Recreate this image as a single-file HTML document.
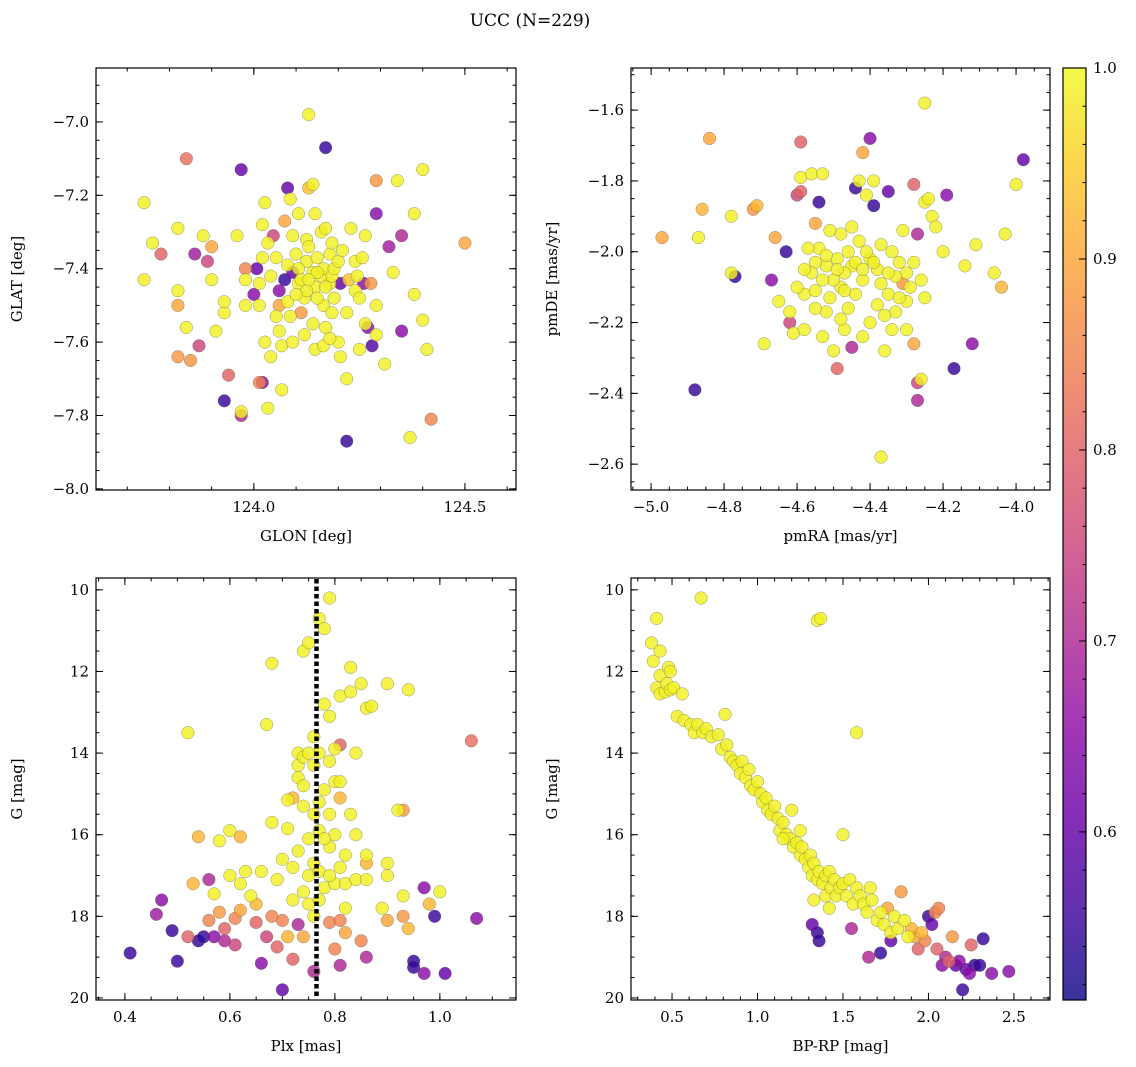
<!DOCTYPE html>
<html><head><meta charset="utf-8">
<style>
html,body{margin:0;padding:0;background:#fff;}
svg{display:block;font-family:"DejaVu Serif","Liberation Serif",serif;}
</style></head>
<body>
<svg id="fig" width="1136" height="1067" viewBox="0 0 1136 1067" xmlns="http://www.w3.org/2000/svg">
<text x="530" y="26" font-size="17" text-anchor="middle">UCC (N=229)</text>
</svg>
<script>
// ---- Data arrays: [x, y, membership probability] ----
const glonGlat = [[123.74,-7.22,.99],[123.74,-7.43,.99],[123.84,-7.10,.82],[123.97,-7.13,.6],[124.17,-7.07,.55],[124.13,-6.98,.99],[124.29,-7.16,.88],[124.34,-7.16,.99],[124.40,-7.13,.99],[124.50,-7.33,.9],[124.38,-7.25,.99],[124.35,-7.31,.7],[124.32,-7.34,.68],[124.29,-7.25,.65],[124.40,-7.54,.99],[124.41,-7.62,.99],[124.42,-7.81,.85],[124.37,-7.86,.99],[124.38,-7.47,.99],[124.33,-7.41,.99],[124.31,-7.66,.99],[124.35,-7.57,.65],[124.29,-7.58,.99],[124.27,-7.56,.65],[124.28,-7.61,.58],[124.25,-7.62,.99],[124.22,-7.70,.99],[124.22,-7.87,.55],[124.26,-7.44,.65],[124.29,-7.50,.99],[123.78,-7.36,.8],[123.76,-7.33,.99],[123.82,-7.29,.99],[123.82,-7.46,.99],[123.82,-7.50,.9],[123.84,-7.56,.99],[123.82,-7.64,.88],[123.85,-7.65,.88],[123.87,-7.61,.75],[123.86,-7.36,.68],[123.88,-7.31,.99],[123.89,-7.38,.75],[123.90,-7.34,.9],[123.90,-7.43,.99],[123.91,-7.57,.99],[123.93,-7.52,.99],[123.93,-7.49,.99],[123.93,-7.76,.55],[123.94,-7.69,.8],[123.97,-7.79,.99],[123.97,-7.80,.7],[123.98,-7.50,.99],[123.98,-7.43,.99],[123.98,-7.40,.85],[123.96,-7.31,.99],[124.00,-7.47,.65],[124.007,-7.40,.6],[124.013,-7.50,.99],[124.013,-7.71,.85],[124.02,-7.71,.65],[124.026,-7.60,.99],[124.04,-7.64,.99],[124.033,-7.78,.99],[124.02,-7.28,.99],[124.026,-7.22,.99],[124.033,-7.33,.99],[124.046,-7.31,.75],[124.02,-7.37,.99],[124.04,-7.42,.99],[124.053,-7.37,.99],[124.06,-7.46,.65],[124.06,-7.50,.9],[124.06,-7.57,.99],[124.066,-7.61,.99],[124.066,-7.73,.99],[124.073,-7.43,.55],[124.073,-7.27,.9],[124.08,-7.18,.6],[124.086,-7.21,.99],[124.092,-7.41,.6],[124.092,-7.31,.99],[124.10,-7.36,.99],[124.106,-7.25,.99],[124.106,-7.44,.99],[124.112,-7.52,.88],[124.12,-7.48,.99],[124.125,-7.38,.99],[124.125,-7.32,.99],[124.13,-7.18,.93],[124.14,-7.17,.99],[124.14,-7.41,.99],[124.14,-7.55,.99],[124.145,-7.45,.99],[124.145,-7.62,.99],[124.15,-7.37,.99],[124.16,-7.30,.99],[124.16,-7.42,.99],[124.165,-7.40,.99],[124.165,-7.50,.99],[124.17,-7.56,.99],[124.17,-7.29,.99],[124.18,-7.36,.99],[124.18,-7.44,.99],[124.185,-7.33,.99],[124.185,-7.42,.99],[124.19,-7.40,.99],[124.19,-7.48,.99],[124.20,-7.38,.99],[124.20,-7.60,.99],[124.205,-7.64,.99],[124.205,-7.44,.6],[124.21,-7.35,.99],[124.22,-7.52,.99],[124.225,-7.43,.94],[124.23,-7.29,.99],[124.24,-7.38,.99],[124.24,-7.46,.99],[124.245,-7.42,.99],[124.25,-7.48,.99],[124.257,-7.37,.99],[124.264,-7.31,.99],[124.264,-7.55,.99],[124.277,-7.44,.88],[124.165,-7.61,.99],[124.12,-7.58,.99],[124.092,-7.60,.99],[124.086,-7.53,.99],[124.08,-7.49,.99],[124.08,-7.39,.99],[124.145,-7.25,.99],[124.13,-7.34,.99],[124.106,-7.40,.99],[124.112,-7.43,.99],[124.15,-7.48,.99],[124.185,-7.52,.99],[124.18,-7.59,.99],[124.125,-7.46,.99],[124.17,-7.45,.99],[124.15,-7.41,.99],[124.13,-7.43,.99],[124.10,-7.47,.99],[124.053,-7.53,.99],[124.013,-7.44,.99]];
const pmraPmde = [[-4.97,-1.96,.9],[-4.87,-1.96,.99],[-4.86,-1.88,.92],[-4.84,-1.68,.9],[-4.88,-2.39,.55],[-4.78,-1.90,.99],[-4.78,-2.06,.99],[-4.77,-2.07,.55],[-4.72,-1.88,.88],[-4.71,-1.87,.92],[-4.69,-2.26,.99],[-4.67,-2.08,.65],[-4.66,-1.96,.9],[-4.65,-2.14,.99],[-4.63,-2.00,.55],[-4.62,-2.20,.75],[-4.62,-2.17,.99],[-4.61,-2.23,.99],[-4.60,-1.84,.75],[-4.59,-1.69,.8],[-4.59,-1.79,.99],[-4.59,-1.83,.8],[-4.58,-2.12,.99],[-4.55,-2.11,.99],[-4.56,-1.78,.99],[-4.53,-1.78,.99],[-4.54,-1.86,.55],[-4.55,-1.92,.9],[-4.54,-1.99,.99],[-4.52,-2.04,.99],[-4.52,-2.17,.99],[-4.50,-2.28,.99],[-4.49,-2.33,.8],[-4.48,-1.95,.99],[-4.48,-2.10,.99],[-4.47,-2.22,.99],[-4.45,-2.04,.99],[-4.45,-2.27,.7],[-4.44,-1.82,.55],[-4.43,-1.80,.99],[-4.42,-1.72,.9],[-4.40,-1.68,.65],[-4.41,-1.84,.99],[-4.39,-1.80,.99],[-4.39,-1.87,.55],[-4.38,-2.05,.99],[-4.37,-2.58,.99],[-4.36,-2.28,.99],[-4.35,-1.83,.6],[-4.34,-2.00,.99],[-4.33,-2.17,.99],[-4.31,-1.94,.99],[-4.30,-2.14,.99],[-4.28,-2.26,.9],[-4.28,-1.81,.8],[-4.27,-1.95,.7],[-4.27,-2.37,.75],[-4.27,-2.42,.7],[-4.26,-2.36,.99],[-4.25,-1.86,.99],[-4.25,-1.58,.99],[-4.24,-1.85,.99],[-4.23,-1.90,.99],[-4.22,-1.93,.99],[-4.20,-2.00,.99],[-4.19,-1.84,.65],[-4.17,-2.33,.55],[-4.14,-2.04,.99],[-4.12,-2.26,.65],[-4.11,-1.98,.99],[-4.06,-2.06,.99],[-4.04,-2.10,.92],[-4.03,-1.95,.99],[-4.00,-1.81,.99],[-3.98,-1.74,.6],[-4.30,-2.06,.99],[-4.31,-2.09,.88],[-4.35,-2.12,.99],[-4.38,-2.15,.99],[-4.32,-2.03,.99],[-4.40,-2.02,.99],[-4.42,-2.08,.99],[-4.44,-2.12,.99],[-4.46,-2.00,.99],[-4.47,-2.06,.99],[-4.49,-2.02,.99],[-4.50,-2.08,.99],[-4.51,-2.13,.99],[-4.53,-2.08,.99],[-4.55,-2.03,.99],[-4.56,-2.06,.99],[-4.57,-1.99,.99],[-4.58,-2.05,.99],[-4.60,-2.10,.99],[-4.43,-1.97,.99],[-4.41,-2.00,.99],[-4.39,-2.03,.99],[-4.37,-2.09,.99],[-4.36,-2.18,.99],[-4.34,-2.22,.99],[-4.33,-2.07,.99],[-4.29,-2.10,.99],[-4.28,-2.03,.99],[-4.26,-2.08,.99],[-4.25,-2.13,.99],[-4.46,-2.16,.99],[-4.48,-2.19,.99],[-4.42,-2.24,.99],[-4.40,-2.20,.99],[-4.53,-2.24,.99],[-4.51,-1.94,.99],[-4.45,-1.93,.99],[-4.49,-2.05,.99],[-4.44,-2.03,.99],[-4.42,-2.05,.99],[-4.52,-2.01,.99],[-4.47,-2.11,.99],[-4.35,-2.06,.99],[-4.37,-1.98,.99],[-4.32,-2.13,.99],[-4.30,-2.22,.99],[-4.55,-2.16,.99],[-4.58,-2.22,.99]];
const plxG = [[0.41,18.9,.55],[0.46,17.95,.68],[0.47,17.6,.65],[0.49,18.35,.55],[0.50,19.1,.55],[0.52,18.5,.8],[0.52,13.5,.99],[0.53,17.2,.92],[0.54,18.6,.55],[0.55,18.5,.55],[0.54,16.05,.92],[0.56,18.1,.85],[0.56,17.1,.7],[0.57,18.5,.65],[0.57,17.45,.99],[0.58,16.15,.99],[0.58,17.9,.88],[0.59,18.3,.8],[0.59,18.6,.7],[0.60,15.9,.99],[0.60,17.0,.99],[0.61,18.05,.85],[0.61,18.7,.75],[0.62,17.2,.99],[0.62,17.85,.9],[0.62,16.05,.92],[0.63,16.9,.99],[0.64,17.5,.99],[0.65,18.15,.8],[0.65,17.7,.92],[0.66,16.9,.99],[0.66,19.15,.65],[0.67,13.3,.99],[0.67,18.5,.75],[0.68,11.8,.99],[0.68,15.7,.99],[0.69,17.1,.99],[0.69,18.75,.8],[0.70,18.1,.85],[0.70,19.8,.6],[0.70,16.6,.99],[0.71,15.15,.99],[0.71,15.85,.99],[0.71,18.5,.92],[0.72,19.05,.8],[0.72,16.8,.99],[0.72,15.1,.92],[0.73,14.0,.99],[0.73,14.3,.99],[0.73,14.6,.99],[0.73,16.4,.99],[0.73,18.2,.7],[0.74,11.5,.99],[0.75,11.3,.99],[0.74,14.1,.99],[0.74,15.3,.99],[0.74,14.8,.99],[0.74,17.4,.99],[0.75,16.1,.99],[0.75,17.0,.99],[0.75,17.7,.99],[0.76,13.6,.99],[0.76,14.3,.99],[0.76,15.5,.99],[0.76,16.7,.99],[0.76,19.35,.7],[0.77,10.7,.99],[0.77,14.0,.99],[0.77,15.9,.99],[0.77,16.9,.99],[0.78,10.95,.99],[0.78,12.8,.99],[0.78,14.9,.99],[0.78,17.3,.99],[0.79,10.2,.99],[0.79,13.1,.99],[0.79,14.2,.99],[0.79,15.5,.99],[0.79,16.3,.99],[0.79,18.15,.85],[0.80,14.7,.99],[0.80,13.9,.99],[0.80,16.0,.99],[0.80,17.2,.99],[0.80,18.8,.85],[0.81,12.6,.99],[0.81,13.8,.8],[0.81,14.7,.99],[0.81,15.1,.92],[0.81,16.8,.99],[0.81,18.1,.85],[0.81,19.2,.7],[0.82,16.5,.99],[0.82,17.2,.99],[0.82,18.4,.9],[0.83,11.9,.99],[0.83,12.5,.99],[0.83,15.5,.99],[0.84,14.0,.99],[0.84,16.0,.99],[0.84,17.1,.99],[0.85,12.3,.99],[0.85,18.6,.85],[0.86,12.9,.99],[0.86,16.5,.99],[0.86,16.7,.92],[0.86,17.1,.99],[0.86,19.0,.7],[0.87,12.85,.99],[0.89,17.8,.99],[0.90,12.3,.99],[0.90,16.7,.99],[0.90,17.0,.99],[0.90,18.1,.9],[0.92,15.4,.99],[0.93,15.4,.88],[0.93,17.5,.99],[0.93,18.0,.88],[0.94,12.45,.99],[0.94,18.3,.92],[0.95,19.1,.55],[0.95,19.25,.55],[0.97,17.3,.65],[0.97,19.4,.65],[0.98,17.7,.92],[0.99,18.0,.55],[1.00,17.4,.99],[1.01,19.4,.6],[1.06,13.7,.82],[1.07,18.05,.65],[0.76,18.0,.99],[0.74,18.5,.9],[0.72,17.6,.99],[0.75,14.0,.99],[0.77,15.2,.99],[0.78,16.1,.99],[0.79,17.0,.99],[0.77,17.6,.99],[0.82,17.8,.99],[0.68,18.0,.85]];
const bprpG = [[0.38,11.3,.99],[0.39,11.75,.99],[0.41,10.7,.99],[0.41,12.4,.99],[0.43,11.5,.99],[0.43,12.1,.99],[0.43,12.55,.99],[0.46,12.5,.99],[0.47,12.3,.99],[0.48,11.9,.99],[0.49,12.0,.99],[0.49,12.45,.99],[0.51,12.4,.99],[0.53,13.1,.99],[0.56,12.55,.99],[0.57,13.2,.99],[0.61,13.3,.99],[0.63,13.5,.99],[0.65,13.3,.99],[0.67,10.2,.99],[0.68,13.5,.99],[0.70,13.4,.99],[0.73,13.6,.99],[0.77,13.55,.99],[0.79,13.9,.99],[0.81,13.05,.99],[0.82,13.8,.99],[0.84,14.1,.99],[0.86,14.2,.99],[0.88,14.3,.99],[0.90,14.5,.99],[0.91,14.2,.99],[0.93,14.6,.99],[0.95,14.4,.99],[0.96,14.8,.99],[0.98,14.9,.99],[1.00,14.7,.99],[1.02,15.0,.99],[1.03,15.2,.99],[1.05,15.1,.99],[1.06,15.4,.99],[1.08,15.5,.99],[1.10,15.3,.99],[1.12,15.6,.99],[1.13,15.9,.99],[1.15,15.7,.99],[1.17,16.0,.99],[1.19,16.1,.99],[1.20,15.4,.99],[1.21,16.3,.99],[1.23,16.2,.99],[1.25,16.5,.99],[1.26,16.3,.99],[1.28,16.6,.99],[1.30,16.8,.99],[1.31,16.5,.99],[1.32,17.0,.99],[1.33,16.7,.99],[1.35,10.75,.99],[1.37,10.7,.99],[1.35,17.1,.99],[1.36,16.9,.99],[1.38,17.2,.99],[1.40,17.0,.99],[1.40,17.5,.99],[1.42,16.9,.99],[1.43,17.3,.99],[1.45,17.1,.99],[1.46,17.5,.99],[1.48,17.3,.99],[1.50,16.0,.99],[1.50,17.2,.99],[1.52,17.5,.99],[1.54,17.1,.99],[1.56,17.7,.99],[1.58,17.3,.99],[1.58,13.5,.99],[1.60,17.5,.99],[1.62,17.7,.99],[1.64,17.9,.99],[1.66,17.3,.99],[1.67,17.6,.99],[1.70,18.1,.99],[1.72,17.9,.99],[1.74,18.2,.99],[1.76,17.8,.9],[1.78,18.4,.99],[1.80,18.0,.99],[1.82,18.3,.99],[1.84,17.4,.88],[1.86,18.1,.99],[1.88,18.5,.99],[1.90,18.3,.92],[1.92,18.5,.9],[1.94,18.8,.8],[1.96,18.4,.92],[1.98,18.6,.85],[2.00,18.0,.55],[2.02,18.2,.6],[2.04,17.9,.85],[2.05,18.8,.8],[2.06,17.8,.85],[2.08,19.2,.65],[2.10,19.0,.7],[2.12,19.1,.8],[2.14,18.5,.88],[2.16,19.2,.6],[2.18,19.1,.65],[2.20,19.8,.55],[2.22,19.3,.6],[2.24,19.4,.65],[2.25,18.7,.8],[2.27,19.2,.55],[2.30,19.2,.55],[2.32,18.55,.55],[2.37,19.4,.65],[2.47,19.35,.65],[1.32,18.2,.6],[1.35,18.4,.55],[1.36,18.6,.55],[1.55,18.3,.7],[1.65,19.0,.7],[1.72,18.9,.55],[1.78,18.6,.6],[1.25,15.9,.99],[1.15,16.1,.99],[1.42,17.8,.99],[1.33,17.6,.99]];
const plxMedian = [0.765];
const xTicks1 = [124.0,124.5], yTicks1 = [-7.0,-7.2,-7.4,-7.6,-7.8,-8.0];
const xTicks2 = [-5.0,-4.8,-4.6,-4.4,-4.2,-4.0], yTicks2 = [-1.6,-1.8,-2.0,-2.2,-2.4,-2.6];
const xTicks3 = [0.4,0.6,0.8,1.0], yTicksG = [10,12,14,16,18,20];
const xTicks4 = [0.5,1.0,1.5,2.0,2.5];
const cbTicks = [0.6,0.7,0.8,0.9,1.0];

const NS='http://www.w3.org/2000/svg';
const svg=document.getElementById('fig');
function mk(tag,attrs,parent){const e=document.createElementNS(NS,tag);for(const k in attrs)e.setAttribute(k,attrs[k]);(parent||svg).appendChild(e);return e;}
const stops=['#0d0887','#41049d','#6a00a8','#8f0da4','#b12a90','#cc4778','#e16462','#f2844b','#fca636','#fcce25','#f0f921'];
function hex(h){return [1,3,5].map(i=>parseInt(h.substr(i,2),16));}
const cmin=0.512,cmax=1.0;
function plasma(v){let t=(v-cmin)/(cmax-cmin);t=Math.max(0,Math.min(1,t))*10;const i=Math.min(9,Math.floor(t)),f=t-i;const a=hex(stops[i]),b=hex(stops[i+1]);return 'rgb('+a.map((x,k)=>Math.round(x+(b[k]-x)*f)).join(',')+')';}

function fmt(v,d){return (v<0?'\u2212':'')+Math.abs(v).toFixed(d);}
function panel(name,box,xr,yr,data,xt,yt,xd,yd,xminor,yminor,xlabel,ylabel){
  const [L,T,R,B]=box;
  const g=mk('g',{});
  
  
  const sx=v=>L+(v-xr[0])/(xr[1]-xr[0])*(R-L);
  const sy=v=>T+(v-yr[0])/(yr[1]-yr[0])*(B-T);
  const pts=mk('g',{},g);
  
  
  const sorted=data.slice().sort((a,b)=>a[2]-b[2]);
  sorted.forEach(d=>{
    const c=mk('circle',{cx:sx(d[0]),cy:sy(d[1]),r:6.3,fill:plasma(d[2]),'fill-opacity':0.82,stroke:'#555','stroke-opacity':0.6,'stroke-width':0.5},pts);
    
    
  });
  const tk=mk('g',{stroke:'#000','stroke-width':1},g);
  const lo=Math.min(xr[0],xr[1]),hi=Math.max(xr[0],xr[1]);
  for(let v=Math.ceil(lo/xminor)*xminor;v<=hi;v+=xminor){const x=sx(v);mk('line',{x1:x,x2:x,y1:B,y2:B-3.5},tk);mk('line',{x1:x,x2:x,y1:T,y2:T+3.5},tk);}
  const ylo=Math.min(yr[0],yr[1]),yhi=Math.max(yr[0],yr[1]);
  for(let v=Math.ceil(ylo/yminor-1e-6)*yminor;v<=yhi;v+=yminor){const y=sy(v);mk('line',{x1:L,x2:L+3.5,y1:y,y2:y},tk);mk('line',{x1:R,x2:R-3.5,y1:y,y2:y},tk);}
  xt.forEach(v=>{const x=sx(v);mk('line',{x1:x,x2:x,y1:B,y2:B-7},tk);mk('line',{x1:x,x2:x,y1:T,y2:T+7},tk);
    const t=mk('text',{x:x,y:B+22,'font-size':15,'text-anchor':'middle'},g);t.textContent=fmt(v,xd);
    });
  yt.forEach(v=>{const y=sy(v);mk('line',{x1:L,x2:L+7,y1:y,y2:y},tk);mk('line',{x1:R,x2:R-7,y1:y,y2:y},tk);
    const t=mk('text',{x:L-7,y:y+5,'font-size':15,'text-anchor':'end'},g);t.textContent=fmt(v,yd);
    });
  mk('rect',{x:L,y:T,width:R-L,height:B-T,fill:'none',stroke:'#000','stroke-width':1.2},g);
  const xl=mk('text',{x:(L+R)/2,y:B+51,'font-size':15,'text-anchor':'middle'},g);xl.textContent=xlabel;
  
  const yl=mk('text',{x:0,y:0,'font-size':15,'text-anchor':'middle',transform:`translate(${L-74},${(T+B)/2}) rotate(-90)`},g);yl.textContent=ylabel;
  
  return {sx,sy,g};
}
panel('glon-glat-panel',[96,68,516,490],[123.626,124.621],[-6.853,-8.003],glonGlat,xTicks1,yTicks1,1,1,0.1,0.05,'GLON [deg]','GLAT [deg]');
panel('pm-panel',[631,68,1050,490],[-5.055,-3.907],[-1.481,-2.673],pmraPmde,xTicks2,yTicks2,1,1,0.05,0.05,'pmRA [mas/yr]','pmDE [mas/yr]');
const p3=panel('plx-g-panel',[96,578,516,1000],[0.345,1.145],[9.71,20.05],plxG,xTicks3,yTicksG,1,0,0.05,0.5,'Plx [mas]','G [mag]');
panel('cmd-panel',[631,578,1050,1000],[0.26,2.711],[9.71,20.05],bprpG,xTicks4,yTicksG,1,0,0.1,0.5,'BP-RP [mag]','G [mag]');
plxMedian.forEach(v=>{const x=p3.sx(v);
  const l=mk('line',{x1:x,x2:x,y1:579,y2:999,stroke:'#000','stroke-width':4.5,'stroke-dasharray':'4.5,3'});
  });

const cb=mk('g',{});


const defs=mk('defs',{},svg);
const lg=mk('linearGradient',{id:'cbg',x1:0,y1:1,x2:0,y2:0},defs);
stops.forEach((s,i)=>mk('stop',{offset:i/10,'stop-color':s},lg));
const CT=68,CB=1000,CL=1063,CR=1086;
mk('rect',{x:CL,y:CT,width:CR-CL,height:CB-CT,fill:'url(#cbg)','fill-opacity':0.82},cb);
mk('rect',{x:CL,y:CT,width:CR-CL,height:CB-CT,fill:'none',stroke:'#000','stroke-width':1.2},cb);
const cy=v=>CB-(v-cmin)/(cmax-cmin)*(CB-CT);
for(let v=0.52;v<=1.0001;v+=0.02){mk('line',{x1:CR,x2:CR-3.5,y1:cy(v),y2:cy(v),stroke:'#000'},cb);}
cbTicks.forEach(v=>{mk('line',{x1:CR,x2:CR-7,y1:cy(v),y2:cy(v),stroke:'#000'},cb);
  const t=mk('text',{x:CR+7,y:cy(v)+5,'font-size':15},cb);t.textContent=v.toFixed(1);
  });
</script>
</body></html>
